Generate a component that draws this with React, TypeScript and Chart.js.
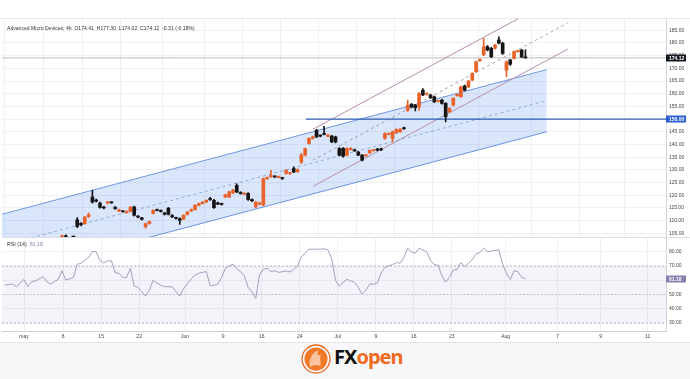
import React, { useEffect, useRef } from "react";
import { Chart, registerables } from "chart.js";
Chart.register(...registerables);

// ---------- DATA ----------
const firstBar = 10; // bar index of first visible candle (bar 0 = May 1)
const opens = [103.0,104.0,103.2,102.4,110.3,108.9,108.8,111.6,119.3,118.0,116.9,115.3,117.0,117.3,115.3,113.8,113.7,113.2,113.6,115.4,111.7,111.1,107.6,108.9,112.8,114.3,114.0,113.0,114.9,112.0,111.2,110.8,110.6,112.4,113.8,114.3,116.0,116.7,117.3,118.6,118.0,117.0,116.6,119.3,119.3,120.9,123.9,121.1,120.4,120.7,118.3,115.4,116.5,116.2,126.6,127.3,127.4,127.0,126.9,128.6,128.5,130.5,129.3,133.1,135.8,140.4,142.4,145.6,143.5,144.3,143.2,143.3,143.0,138.4,138.5,135.8,138.0,137.9,137.0,135.8,135.6,136.7,137.6,138.2,138.3,142.4,144.0,142.4,144.6,145.0,146.5,153.5,155.8,155.5,154.8,161.4,159.8,159.5,158.8,157.0,157.5,156.2,152.9,155.5,159.2,158.8,163.1,162.7,165.4,168.7,173.0,175.3,178.5,177.9,177.9,181.2,179.9,169.3,173.3,173.9,176.6,177.2,174.41];
const highs = [104.3,104.4,103.3,102.6,111.2,109.2,111.6,113.0,122.0,118.5,117.3,115.6,117.6,117.5,115.6,114.5,114.0,113.9,115.6,115.7,112.0,111.3,109.0,109.8,114.3,114.5,114.2,113.3,115.2,112.4,111.4,111.1,112.3,113.6,114.6,116.3,116.9,117.5,118.2,119.2,118.4,117.3,116.9,120.4,121.6,122.3,124.5,121.4,121.0,121.0,118.6,117.5,117.3,126.8,127.2,129.8,127.7,127.6,127.1,130.1,129.0,131.2,130.4,136.5,138.6,142.6,143.3,146.0,143.8,147.2,144.0,143.6,143.3,138.8,138.8,138.7,138.8,138.2,137.3,136.0,136.0,137.9,138.0,138.5,138.6,144.6,144.5,145.3,146.2,146.3,146.9,157.5,156.2,155.8,160.5,162.0,160.4,159.8,159.1,157.5,157.8,156.5,154.5,158.4,159.9,162.9,163.4,165.3,168.3,172.9,173.8,181.8,179.0,178.3,179.5,182.4,180.3,172.9,173.6,176.9,177.2,177.5,177.30];
const lows = [102.6,103.2,102.4,102.0,107.2,107.9,108.6,111.2,116.9,117.3,114.9,114.6,116.5,116.8,114.4,113.5,113.3,112.9,113.4,111.8,111.1,110.2,107.0,108.6,112.6,113.8,113.4,112.2,112.2,111.2,110.6,108.5,110.4,112.2,113.6,114.1,115.8,116.5,117.1,118.0,114.8,116.3,116.1,119.0,119.0,120.6,121.0,120.4,120.2,118.0,117.5,115.0,116.2,115.8,126.2,127.0,126.9,126.8,126.2,128.3,128.2,128.9,129.0,132.5,135.5,140.1,142.1,142.7,143.0,143.8,143.0,140.7,140.6,135.5,135.0,135.5,137.8,137.2,135.6,133.5,135.3,136.4,137.3,137.5,137.6,142.1,143.8,141.0,144.3,144.8,145.9,153.0,154.4,153.2,153.5,159.2,159.5,158.1,156.5,156.8,155.9,148.9,152.6,155.2,159.0,158.5,161.1,162.4,165.1,168.4,172.7,175.0,176.9,174.2,177.6,179.6,175.5,166.7,171.2,173.6,176.4,174.3,174.02];
const closes = [104.0,103.6,102.5,102.2,107.7,108.4,111.4,112.3,117.3,117.7,115.2,115.0,117.3,117.0,114.7,114.2,113.5,113.6,115.3,112.1,111.4,110.5,108.8,109.6,114.0,114.0,113.6,112.5,112.5,111.5,110.9,110.1,112.1,113.4,114.3,116.0,116.7,117.3,118.0,118.3,115.1,116.5,116.4,120.2,121.3,122.0,121.3,120.7,120.8,118.3,117.8,117.3,117.0,126.6,126.8,127.8,127.2,127.3,126.6,129.8,128.8,129.2,130.0,135.8,138.4,142.4,143.0,143.0,143.3,144.0,143.7,141.0,141.0,135.8,135.4,138.4,138.4,137.5,135.8,133.8,135.8,137.7,137.8,137.8,137.9,144.3,144.3,145.0,145.9,146.0,146.2,155.5,154.8,154.5,160.1,159.5,160.2,158.4,156.8,157.2,156.2,150.9,154.2,158.2,159.7,162.7,161.4,165.0,168.0,172.6,173.5,178.5,177.2,174.6,179.2,179.9,175.9,172.6,171.6,176.6,176.9,174.43,174.12];

const rsiFirstBar = -5;
const rsiValues = [56.6,57,57.3,55.4,58,60.6,55.4,59,59.6,61,62.5,59,57.3,59,60.6,66.7,60.1,61,62,71.2,71.9,74,76,80.1,80.1,73.7,72,73.7,73.7,65.3,64.8,62,62,68.4,55.9,55,52,48.9,53,60.1,58,56.6,55.4,55.4,55.4,52,48.9,54,57.5,61,63.5,64.9,65.5,66.1,56,56.5,57.3,62,68.4,70,71.4,68,66,63,55,51.9,47.3,64,67.7,68.4,66.1,66.7,65.5,66,66.5,65.8,67.5,70,76.5,78.9,81.8,81.8,81.8,81.8,82,81.5,75,60,55.9,58.5,60.6,59.6,58.5,55,50.3,53,57.3,57.3,58,65,69.1,70,71,72.4,71.9,76,82.5,80,79,82.5,81.3,80,74,71,70.5,63,58.7,62,67.2,67.5,72.4,69.5,71.9,74.5,78.5,79.4,82.5,80,80.5,81,81.3,71,64.9,60.6,66.7,66.1,62,61.18];

const dateTickBars = [0,10.3,20.3,30.3,42.4,52.4,62.6,72.6,82.6,92.6,102.6,112.6,126.8,140.5,151.8,164.2];
const dateTickLabels = ["may","8","15","22","Jun","9","16","24","Jul","9","16","23","Aug","7","9","11"];

const priceTicks = [105,110,115,120,125,130,135,140,145,150,155,160,165,170,175,180,185];
const rsiTicks = [30,40,50,60,70,80];

// drawings (bar index, price)
const blueChannelX = [-5.8, 137.6];
const blueUpper = [112.5, 169.5];
const blueMid = [100.2, 157.25];
const blueLower = [88.0, 145.0];
const purpleX = [76.05, 143.16];
const purpleUpper = [146.0, 200.1];
const purpleMid = [133.8, 187.9];
const purpleLower = [123.5, 177.6];
const lastPrice = 174.12;
const supportLevel = 150.0;
const supportStartBar = 74.2;
const rsiLast = 61.18;

const header = "Advanced Micro Devices, 4h  O174.41  H177.30  L174.02  C174.12  -0.31 (-0.18%)";

// ---------- RENDER ----------
const X_MIN = -5.8;
const X_MAX = 169;
const FONT = '"Liberation Sans", Arial, sans-serif';
const UP = "#e8622a";
const DOWN = "#151515";

const boxPlugin = {
  id: "boxes",
  afterDraw(chart: any, _a: any, opts: any) {
    const { ctx, chartArea } = chart;
    const ys = chart.scales.y;
    (opts.items || []).forEach((b: any) => {
      const y = ys.getPixelForValue(b.value);
      ctx.save();
      ctx.fillStyle = b.bg;
      ctx.fillRect(chartArea.right, Math.round(y) - 3.5, 20, 7);
      ctx.fillStyle = "#fff";
      ctx.font = `bold 5px ${FONT}`;
      ctx.textAlign = "left";
      ctx.textBaseline = "middle";
      ctx.fillText(b.value.toFixed(2), chartArea.right + 3, Math.round(y) + 0.3);
      ctx.restore();
    });
  },
};

const zeroPad = (s: any) => {
  s.paddingTop = 0;
  s.paddingBottom = 0;
  s.paddingLeft = 0;
  s.paddingRight = 0;
};

const line = (xs: number[], ys: number[], extra: any = {}) => ({
  type: "line",
  data: xs.map((x, k) => ({ x, y: ys[k] })),
  pointRadius: 0,
  borderWidth: 1,
  tension: 0,
  fill: false,
  ...extra,
});

export default function App() {
  const priceRef = useRef<HTMLCanvasElement>(null);
  const rsiRef = useRef<HTMLCanvasElement>(null);

  useEffect(() => {
    const candleColors = opens.map((o, k) => (closes[k] >= o ? UP : DOWN));
    const bodies = opens.map((o, k) => ({ x: firstBar + k, y: [o, closes[k]] }));
    const wicks = opens.map((_o, k) => ({ x: firstBar + k, y: [lows[k], highs[k]] }));

    const price = new Chart(priceRef.current!, {
      type: "bar",
      data: {
        datasets: [
          {
            type: "bar",
            data: bodies as any,
            backgroundColor: candleColors,
            barThickness: 3,
            minBarLength: 1,
            grouped: false,
            order: 1,
          } as any,
          {
            type: "bar",
            data: wicks as any,
            backgroundColor: candleColors,
            barThickness: 1,
            grouped: false,
            order: 2,
          } as any,
          line(blueChannelX, blueUpper, {
            borderColor: "#6e98e3",
            fill: "+1",
            backgroundColor: "rgba(60,120,235,0.19)",
            order: 5,
          }),
          line(blueChannelX, blueLower, { borderColor: "#6e98e3", order: 6 }),
          line(blueChannelX, blueMid, { borderColor: "#7d9ccc", borderDash: [3, 3], borderWidth: 0.8, order: 4 }),
          line(purpleX, purpleUpper, { borderColor: "#b58fae", order: 4 }),
          line(purpleX, purpleMid, { borderColor: "#8e8e98", borderDash: [3, 3], borderWidth: 0.8, order: 4 }),
          line(purpleX, purpleLower, { borderColor: "#b58fae", order: 4 }),
          line([X_MIN, X_MAX], [lastPrice, lastPrice], { borderColor: "#a8a8a8", borderWidth: 0.8, order: 4 }),
          line([supportStartBar, X_MAX], [supportLevel, supportLevel], { borderColor: "#2e5db5", borderWidth: 1.2, order: 3 }),
        ] as any,
      },
      options: {
        responsive: false,
        maintainAspectRatio: false,
        animation: false,
        events: [],
        layout: { padding: { left: 2, right: 0, top: 0, bottom: 0 } },
        plugins: {
          legend: { display: false },
          tooltip: { enabled: false },
          boxes: {
            items: [
              { value: lastPrice, bg: "#131722" },
              { value: supportLevel, bg: "#2a5fd8" },
            ],
          },
        } as any,
        scales: {
          x: {
            type: "linear",
            min: X_MIN,
            max: X_MAX,
            offset: false,
            grid: { color: "#f0f0f3", drawTicks: false },
            border: { display: false },
            ticks: { display: false },
            afterBuildTicks: (s: any) => {
              s.ticks = dateTickBars.map((v) => ({ value: v }));
            },
            afterFit: (s: any) => {
              s.height = 0;
              zeroPad(s);
            },
          },
          y: {
            position: "right",
            min: 103.54,
            max: 189.45,
            grid: { color: "#f0f0f3", drawTicks: false },
            border: { display: true, color: "#d4d4da" },
            afterBuildTicks: (s: any) => {
              s.ticks = priceTicks.map((v) => ({ value: v }));
            },
            ticks: {
              font: { size: 5, family: FONT },
              color: "#444",
              padding: 3,
              callback: (v: any) => Number(v).toFixed(2),
            },
            afterFit: (s: any) => {
              s.width = 24;
              zeroPad(s);
            },
          },
        } as any,
      },
      plugins: [boxPlugin],
    });

    const rsiData = rsiValues.map((v, k) => ({ x: rsiFirstBar + k, y: v }));
    const rsi = new Chart(rsiRef.current!, {
      type: "line",
      data: {
        datasets: [
          line(rsiData.map((p) => p.x), rsiData.map((p) => p.y), { borderColor: "#968fae", borderWidth: 0.85, order: 1 }),
          line([X_MIN, X_MAX], [70, 70], {
            borderColor: "#a9a9b6",
            borderWidth: 0.8,
            borderDash: [2, 2],
            fill: { value: 30 },
            backgroundColor: "rgba(126,87,194,0.08)",
            order: 3,
          }),
          line([X_MIN, X_MAX], [50, 50], { borderColor: "#b9b9c4", borderWidth: 0.8, borderDash: [1.5, 2], order: 2 }),
          line([X_MIN, X_MAX], [30, 30], { borderColor: "#a9a9b6", borderWidth: 0.8, borderDash: [2, 2], order: 2 }),
        ] as any,
      },
      options: {
        responsive: false,
        maintainAspectRatio: false,
        animation: false,
        events: [],
        layout: { padding: { left: 2, right: 0, top: 0, bottom: 0 } },
        plugins: {
          legend: { display: false },
          tooltip: { enabled: false },
          boxes: { items: [{ value: rsiLast, bg: "#8b7fae" }] },
        } as any,
        scales: {
          x: {
            type: "linear",
            min: X_MIN,
            max: X_MAX,
            offset: false,
            grid: { color: "#f0f0f3", drawTicks: false },
            border: { display: true, color: "#cfcfd6" },
            afterBuildTicks: (s: any) => {
              s.ticks = dateTickBars.map((v) => ({ value: v }));
            },
            ticks: {
              font: { size: 5, family: FONT },
              color: "#444",
              padding: 3,
              maxRotation: 0,
              autoSkip: false,
              callback: (_v: any, i: number) => dateTickLabels[i],
            },
            afterFit: (s: any) => {
              s.height = 11;
              zeroPad(s);
            },
          },
          y: {
            position: "right",
            min: 24.39,
            max: 89.65,
            grid: { color: "#f2f2f5", drawTicks: false },
            border: { display: true, color: "#d4d4da" },
            afterBuildTicks: (s: any) => {
              s.ticks = rsiTicks.map((v) => ({ value: v }));
            },
            ticks: {
              font: { size: 5, family: FONT },
              color: "#444",
              padding: 3,
              callback: (v: any) => Number(v).toFixed(2),
            },
            afterFit: (s: any) => {
              s.width = 24;
              zeroPad(s);
            },
          },
        } as any,
      },
      plugins: [boxPlugin],
    });

    return () => {
      price.destroy();
      rsi.destroy();
    };
  }, []);

  return (
    <div
      style={{
        position: "fixed",
        left: 0,
        top: 0,
        width: 690,
        height: 379,
        background: "#ffffff",
        fontFamily: FONT,
        overflow: "hidden",
      }}
    >
      <div style={{ position: "absolute", left: 0, top: 342, width: 690, height: 37, background: "#f7f7f9", borderTop: "1px solid #e4e4e8" }} />
      <div style={{ position: "absolute", left: 0, top: 18, width: 690, height: 1, background: "#e8e8ec" }} />
      <canvas ref={priceRef} width={690} height={218} style={{ position: "absolute", left: 0, top: 19, width: 690, height: 218 }} />
      <div style={{ position: "absolute", left: 2, top: 237, width: 688, height: 1, background: "#dcdce2" }} />
      <canvas ref={rsiRef} width={690} height={104} style={{ position: "absolute", left: 0, top: 238, width: 690, height: 104 }} />
      <div style={{ position: "absolute", left: 7, top: 25, fontSize: 5.1, color: "#333", whiteSpace: "pre", lineHeight: "6px" }}>{header}</div>
      <div style={{ position: "absolute", left: 7, top: 241, fontSize: 5.3, color: "#333", whiteSpace: "pre", lineHeight: "6px" }}>
        {"RSI (14)  "}
        <span style={{ color: "#8b7fae" }}>{rsiLast.toFixed(2)}</span>
      </div>
      <svg style={{ position: "absolute", left: 300, top: 342 }} width={32} height={34} viewBox="0 0 32 34">
        <circle cx={16} cy={17} r={14} fill="none" stroke="#ee6a1f" strokeWidth={1.3} />
        <circle cx={16} cy={17} r={11.5} fill="#f07a26" />
        <path d="M10 25 C8 18 12 10 19 8 C16 12 18 14 21 13 C19 17 22 20 20 24 C17 22 14 23 10 25 Z" fill="#fff" opacity={0.55} />
      </svg>
      <div
        style={{
          position: "absolute",
          left: 334,
          top: 346,
          fontFamily: '"Noto Sans", "Liberation Sans", sans-serif',
          fontWeight: 700,
          fontSize: 20,
          lineHeight: "22px",
          letterSpacing: -1,
          whiteSpace: "pre",
        }}
      >
        <span style={{ color: "#111" }}>FX</span>
        <span style={{ color: "#ee6a1f" }}>open</span>
      </div>
    </div>
  );
}
